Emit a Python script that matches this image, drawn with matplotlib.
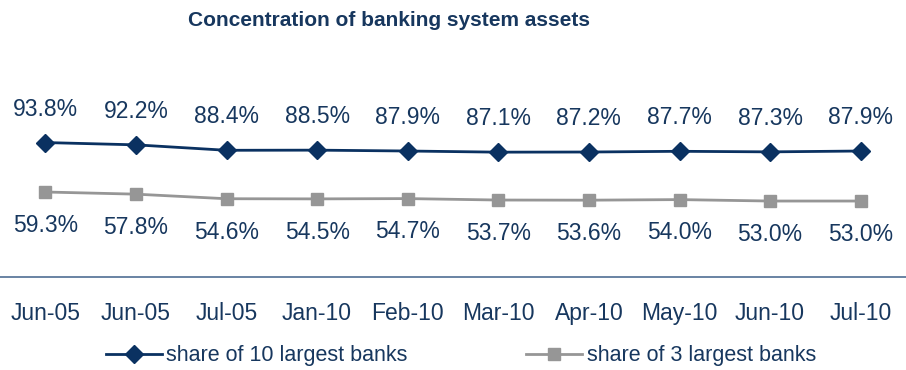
import matplotlib
matplotlib.use("Agg")
import matplotlib.pyplot as plt
from matplotlib.lines import Line2D

categories = ["Jun-05", "Jun-05", "Jul-05", "Jan-10", "Feb-10", "Mar-10",
              "Apr-10", "May-10", "Jun-10", "Jul-10"]
top10 = [93.8, 92.2, 88.4, 88.5, 87.9, 87.1, 87.2, 87.7, 87.3, 87.9]
top3 = [59.3, 57.8, 54.6, 54.5, 54.7, 53.7, 53.6, 54.0, 53.0, 53.0]

navy = "#0A3161"
grey = "#969696"
txt = "#17375E"

plt.rcParams['font.family'] = ['Liberation Sans', 'DejaVu Sans']

fig = plt.figure(figsize=(9.06, 3.70), dpi=100)
ax = fig.add_axes([0.0, 1 - 277 / 370, 1.0, 172 / 370])
x = list(range(len(categories)))

ax.plot(x, top10, color=navy, lw=2, marker="D", ms=9, zorder=3)
ax.plot(x, top3, color=grey, lw=2, marker="s", ms=8, zorder=3)

for xi, v in zip(x, top10):
    ax.annotate(f"{v:.1f}%", (xi, v), xytext=(0, 24), textcoords="offset points",
                ha="center", va="center", fontsize=16.5, color=txt)
for xi, v in zip(x, top3):
    ax.annotate(f"{v:.1f}%", (xi, v), xytext=(0, -24), textcoords="offset points",
                ha="center", va="center", fontsize=16.5, color=txt)

ax.set_xlim(-0.5, len(categories) - 0.5)
ax.set_ylim(0, 120)
ax.set_xticks(x)
ax.set_xticklabels(categories, fontsize=16.5, color=txt)
ax.tick_params(axis="x", length=0, pad=18)
ax.set_yticks([])
for s in ["top", "left", "right"]:
    ax.spines[s].set_visible(False)
ax.spines["bottom"].set_color("#4F6E94")
ax.spines["bottom"].set_linewidth(1.2)

fig.text(389 / 906, 1 - 20 / 370, "Concentration of banking system assets",
         ha="center", va="center", fontsize=15, fontweight="bold", color=txt)

handles = [Line2D([], [], color=navy, lw=2, marker="D", ms=9),
           Line2D([], [], color=grey, lw=2, marker="s", ms=8)]
labels = ["share of 10 largest banks", "share of 3 largest banks"]
fig.legend(handles, labels, loc="center", bbox_to_anchor=(461 / 906, 1 - 356 / 370),
           ncol=2, frameon=False, fontsize=15.5, labelcolor=txt,
           handlelength=2.6, handletextpad=0.2, columnspacing=5.5, borderaxespad=0)

fig.savefig("out.png", dpi=100)
